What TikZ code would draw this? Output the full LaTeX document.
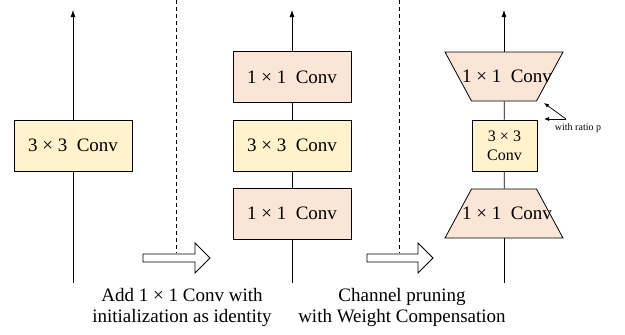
\documentclass[tikz,border=0pt]{standalone}
\usepackage{fontspec}
\setmainfont{Liberation Serif}
\usetikzlibrary{arrows.meta,shapes.geometric}
\definecolor{convyellow}{HTML}{FFF2CC}
\definecolor{convpeach}{HTML}{FBE5D6}
\tikzset{
	convbox/.style={draw, line width=0.8pt, minimum width=118pt, minimum height=51pt, inner sep=0pt, font=\fontsize{19}{21}\selectfont},
	bigconv/.style={convbox, fill=convyellow},
	pointconv/.style={convbox, fill=convpeach},
	trapconv/.style={draw, line width=0.8pt, fill=convpeach, shape=trapezium, trapezium angle=61.6, inner xsep=32.5pt, inner ysep=24.5pt, label={[xshift=3pt, font=\fontsize{19}{21}\selectfont]center:#1}},
	flow/.style={line width=0.8pt},
	flowout/.style={line width=0.8pt, -{Latex[length=7pt,width=5pt]}},
	ratioarrow/.style={line width=0.7pt, -{Latex[length=5pt,width=4pt]}},
	divider/.style={line width=0.7pt, dash pattern=on 4pt off 3pt},
	caption/.style={align=center, font=\fontsize{19}{21}\selectfont},
}
\def\hollowarrow(#1,#2){\draw[line width=0.8pt, fill=white] (#1,254) -- (#2-15,254) -- (#2-15,243) -- (#2,258) -- (#2-15,273) -- (#2-15,262) -- (#1,262) -- cycle;}

\begin{document}
\begin{tikzpicture}[x=1pt, y=-1pt]
		%%%%% START %%%%%
		\useasboundingbox (0,0) rectangle (625,335);
		
		% original block
		\coordinate (inA) at (73,283);
		\coordinate (outA) at (73,10);
		\node[bigconv] (convA) at (73,145.5) {3 × 3\ \ Conv};
		\draw[flow] (inA) -- (convA);
		\draw[flowout] (convA) -- (outA);
		
		% 1x1 - 3x3 - 1x1
		\coordinate (inB) at (292,283);
		\coordinate (outB) at (292,10);
		\node[pointconv] (lowB) at (292,213.5) {1 × 1\ \ Conv};
		\node[bigconv] (midB) at (292,145.5) {3 × 3\ \ Conv};
		\node[pointconv] (topB) at (292,77) {1 × 1\ \ Conv};
		\draw[flow] (inB) -- (lowB);
		\draw[flow] (lowB) -- (midB);
		\draw[flow] (midB) -- (topB);
		\draw[flowout] (topB) -- (outB);
		
		% pruned block
		\coordinate (inC) at (504,283);
		\coordinate (outC) at (504,10);
		\node[trapconv={1 × 1\ \ Conv}] (lowC) at (504,213.5) {};
		\node[bigconv, minimum width=65pt, align=center, font=\fontsize{16}{19}\selectfont] (midC) at (504.5,145.5) {3 × 3\\Conv};
		\node[trapconv={1 × 1\ \ Conv}, shape border rotate=180] (topC) at (504,76.5) {};
		\draw[flow] (inC) -- (lowC);
		\draw[flow] (lowC) -- (midC);
		\draw[flow] (midC) -- (topC);
		\draw[flowout] (topC) -- (outC);
		
		\coordinate (fork) at (566,119);
		\coordinate (tipA) at (544,103);
		\coordinate (tipB) at (544,119);
		\draw[ratioarrow] (fork) -- (tipA);
		\draw[ratioarrow] (fork) -- (tipB);
		\node[font=\fontsize{10}{12}\selectfont] (ratio) at (578,128) {with ratio p};
		
		% steps between the blocks
		\draw[divider] (176,0) -- (176,253);
		\draw[divider] (399,0) -- (399,253);
		\hollowarrow(143,210)
		\hollowarrow(367,433)
		
		\node[caption] (stepA) at (182,307.5) {Add 1 × 1 Conv with\\initialization as identity};
		\node[caption] (stepB) at (402,307.5) {Channel pruning\\with Weight Compensation};
		
		%%%%% END %%%%%
\end{tikzpicture}
\end{document}
